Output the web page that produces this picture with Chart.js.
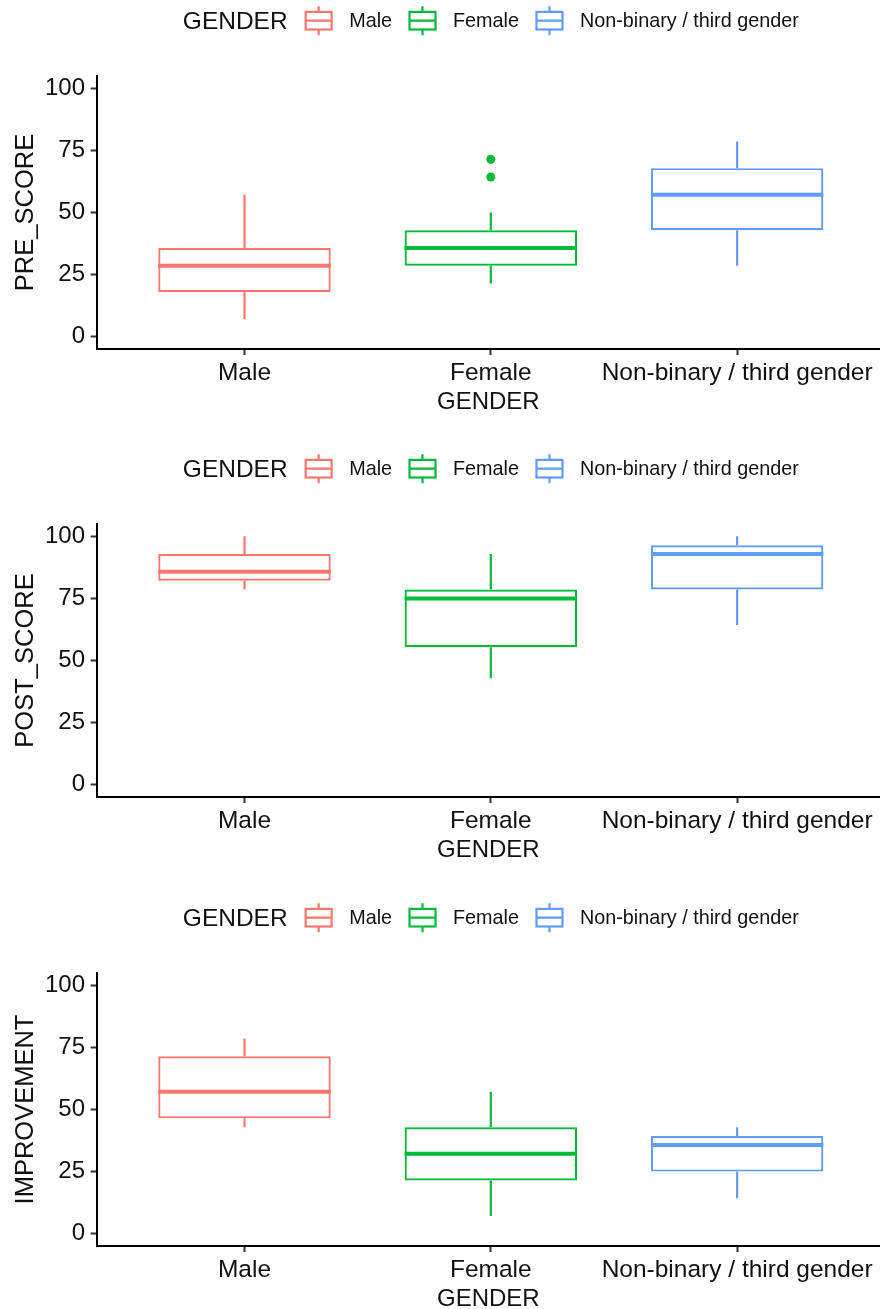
<!DOCTYPE html>
<html>
<head>
<meta charset="utf-8">
<script src="https://cdn.jsdelivr.net/npm/chart.js@4.4.1/dist/chart.umd.min.js"></script>
<style>
  html, body { margin: 0; padding: 0; background: #fff; width: 880px; height: 1309px; overflow: hidden; }
  .panel { position: absolute; left: 0; width: 880px; height: 448px; }
  canvas { display: block; }
</style>
</head>
<body>
<div class="panel" style="top:0px"><canvas id="pre" width="880" height="448"></canvas></div>
<div class="panel" style="top:448px"><canvas id="post" width="880" height="448"></canvas></div>
<div class="panel" style="top:897px"><canvas id="imp" width="880" height="448"></canvas></div>
<script>
// Groups and axis ticks
const genders = ['Male', 'Female', 'Non-binary / third gender'];
const yTickValues = [0, 25, 50, 75, 100];

// PRE_SCORE five-number summaries per gender
const preLow    = [7.14, 21.43, 28.57];
const preQ1     = [17.86, 28.57, 42.86];
const preMedian = [28.57, 35.71, 57.14];
const preQ3     = [35.71, 42.86, 67.86];
const preHigh   = [57.14, 50.00, 78.57];
const preOutliers = [[], [64.29, 71.43], []];

// POST_SCORE
const postLow    = [78.57, 42.86, 64.29];
const postQ1     = [82.14, 55.36, 78.57];
const postMedian = [85.71, 75.00, 92.86];
const postQ3     = [92.86, 78.57, 96.43];
const postHigh   = [100.00, 92.86, 100.00];
const postOutliers = [[], [], []];

// IMPROVEMENT
const impLow    = [42.86, 7.14, 14.29];
const impQ1     = [46.43, 21.43, 25.00];
const impMedian = [57.14, 32.14, 35.71];
const impQ3     = [71.43, 42.86, 39.29];
const impHigh   = [78.57, 57.14, 42.86];
const impOutliers = [[], [], []];

const genderColors = ['#F8766D', '#00BA38', '#619CFF'];
const FONT = "'Liberation Sans', Arial, Helvetica, sans-serif";
const INK = '#111111';

Chart.defaults.font.family = FONT;
Chart.defaults.color = INK;

// Median line across each box, drawn from the box bar geometry and the y scale
const boxMedians = {
  id: 'boxMedians',
  afterDatasetsDraw(chart, args, opts) {
    const meta = chart.getDatasetMeta(0);
    const yScale = chart.scales.y;
    const ctx = chart.ctx;
    ctx.save();
    ctx.lineWidth = opts.lineWidth;
    meta.data.forEach((bar, i) => {
      const { x, width } = bar.getProps(['x', 'width'], true);
      const py = yScale.getPixelForValue(opts.values[i]);
      ctx.strokeStyle = opts.colors[i];
      ctx.beginPath();
      ctx.moveTo(x - width / 2, py);
      ctx.lineTo(x + width / 2, py);
      ctx.stroke();
    });
    ctx.restore();
  }
};

// Horizontal key above the panel: title followed by boxplot glyphs and labels
const genderKey = {
  id: 'genderKey',
  afterDraw(chart, args, opts) {
    const ctx = chart.ctx;
    const xs = chart.scales.x;
    const cx = xs.getPixelForValue((opts.labels.length - 1) / 2);
    const cy = opts.centerY;
    const keyW = 28, boxHalf = 8.8, whiskHalf = 14.5;
    const gapTitle = 17, gapKey = 16.5, gapItem = 16.5;
    ctx.save();
    ctx.font = `${opts.titleSize}px ${FONT}`;
    const titleW = ctx.measureText(opts.title).width;
    ctx.font = `${opts.labelSize}px ${FONT}`;
    const labelWs = opts.labels.map(l => ctx.measureText(l).width);
    const total = titleW + gapTitle +
      labelWs.reduce((a, w) => a + keyW + gapKey + w, 0) +
      gapItem * (opts.labels.length - 1);
    let x = cx - total / 2;
    ctx.textBaseline = 'middle';
    ctx.textAlign = 'left';
    ctx.fillStyle = INK;
    ctx.font = `${opts.titleSize}px ${FONT}`;
    ctx.fillText(opts.title, x, cy + 1.3);
    x += titleW + gapTitle;
    opts.labels.forEach((label, i) => {
      const c = opts.colors[i];
      ctx.strokeStyle = c;
      ctx.lineWidth = 2.2;
      ctx.fillStyle = '#fff';
      ctx.fillRect(x + 1, cy - boxHalf, keyW - 2, boxHalf * 2);
      ctx.strokeRect(x + 1, cy - boxHalf, keyW - 2, boxHalf * 2);
      const mx = x + keyW / 2;
      ctx.beginPath();
      ctx.moveTo(mx, cy - whiskHalf); ctx.lineTo(mx, cy - boxHalf);
      ctx.moveTo(mx, cy + boxHalf); ctx.lineTo(mx, cy + whiskHalf);
      ctx.moveTo(x + 1, cy); ctx.lineTo(x + keyW - 1, cy);
      ctx.stroke();
      x += keyW + gapKey;
      ctx.fillStyle = INK;
      ctx.font = `${opts.labelSize}px ${FONT}`;
      ctx.fillText(label, x, cy + 1.2);
      x += labelWs[i] + gapItem;
    });
    ctx.restore();
  }
};

function buildPanel(id, yTitle, low, q1, median, q3, high, outliers) {
  const idx = genders.map((g, i) => i);
  const whisker = (from, to) => ({
    type: 'bar',
    data: idx.map(i => ({ x: i, y: [from[i], to[i]] })),
    backgroundColor: genderColors,
    borderWidth: 0,
    barThickness: 2.2,
    grouped: false,
    inflateAmount: 0
  });
  const outlierPoints = outliers.flatMap((vals, i) => vals.map(v => ({ x: i, y: v })));

  return new Chart(document.getElementById(id), {
    type: 'bar',
    data: {
      datasets: [
        {
          data: idx.map(i => ({ x: i, y: [q1[i], q3[i]] })),
          backgroundColor: '#ffffff',
          borderColor: genderColors,
          borderWidth: 2.2,
          borderSkipped: false,
          barPercentage: 0.7,
          categoryPercentage: 1,
          grouped: false,
          inflateAmount: 0
        },
        whisker(low, q1),
        whisker(q3, high),
        {
          type: 'scatter',
          data: outlierPoints,
          pointRadius: 4.5,
          pointBorderWidth: 0,
          pointBackgroundColor: c => (c.raw ? genderColors[c.raw.x] : genderColors[0])
        }
      ]
    },
    options: {
      responsive: false,
      animation: false,
      devicePixelRatio: 1,
      layout: { autoPadding: false, padding: { top: 75.9, left: 0, right: 0, bottom: 0 } },
      plugins: {
        legend: { display: false },
        tooltip: { enabled: false },
        boxMedians: { values: median, colors: genderColors, lineWidth: 4 },
        genderKey: { title: 'GENDER', labels: genders, colors: genderColors, centerY: 20.7, titleSize: 24.5, labelSize: 19.8 }
      },
      scales: {
        x: {
          type: 'linear',
          min: -0.6,
          max: 2.58,
          offset: false,
          afterBuildTicks: s => { s.ticks = idx.map(v => ({ value: v })); },
          afterFit: s => { s.height = 98.9; s.paddingLeft = 0; s.paddingRight = 0; },
          ticks: {
            callback: v => genders[v],
            font: { size: 24.5 },
            color: INK,
            padding: 3,
            maxRotation: 0,
            autoSkip: false
          },
          grid: { offset: false, drawOnChartArea: false, drawTicks: true, tickLength: 6, tickColor: '#333333', tickWidth: 2 },
          border: { display: true, color: '#000000', width: 2 },
          title: { display: true, text: 'GENDER', font: { size: 24 }, color: INK, padding: { top: 0, bottom: 31.7 } }
        },
        y: {
          type: 'linear',
          min: -5,
          max: 105,
          afterBuildTicks: s => { s.ticks = yTickValues.map(v => ({ value: v })); },
          afterFit: s => { s.width = 96.7; s.paddingTop = 0; s.paddingBottom = 0; },
          ticks: { font: { size: 24 }, color: INK, padding: 5.7 },
          grid: { drawOnChartArea: false, drawTicks: true, tickLength: 6, tickColor: '#333333', tickWidth: 2 },
          border: { display: true, color: '#000000', width: 2 },
          title: { display: true, text: yTitle, font: { size: 25.5 }, color: INK, padding: { top: 10.5, bottom: 0 } }
        }
      }
    },
    plugins: [boxMedians, genderKey]
  });
}

buildPanel('pre', 'PRE_SCORE', preLow, preQ1, preMedian, preQ3, preHigh, preOutliers);
buildPanel('post', 'POST_SCORE', postLow, postQ1, postMedian, postQ3, postHigh, postOutliers);
buildPanel('imp', 'IMPROVEMENT', impLow, impQ1, impMedian, impQ3, impHigh, impOutliers);
</script>
</body>
</html>
